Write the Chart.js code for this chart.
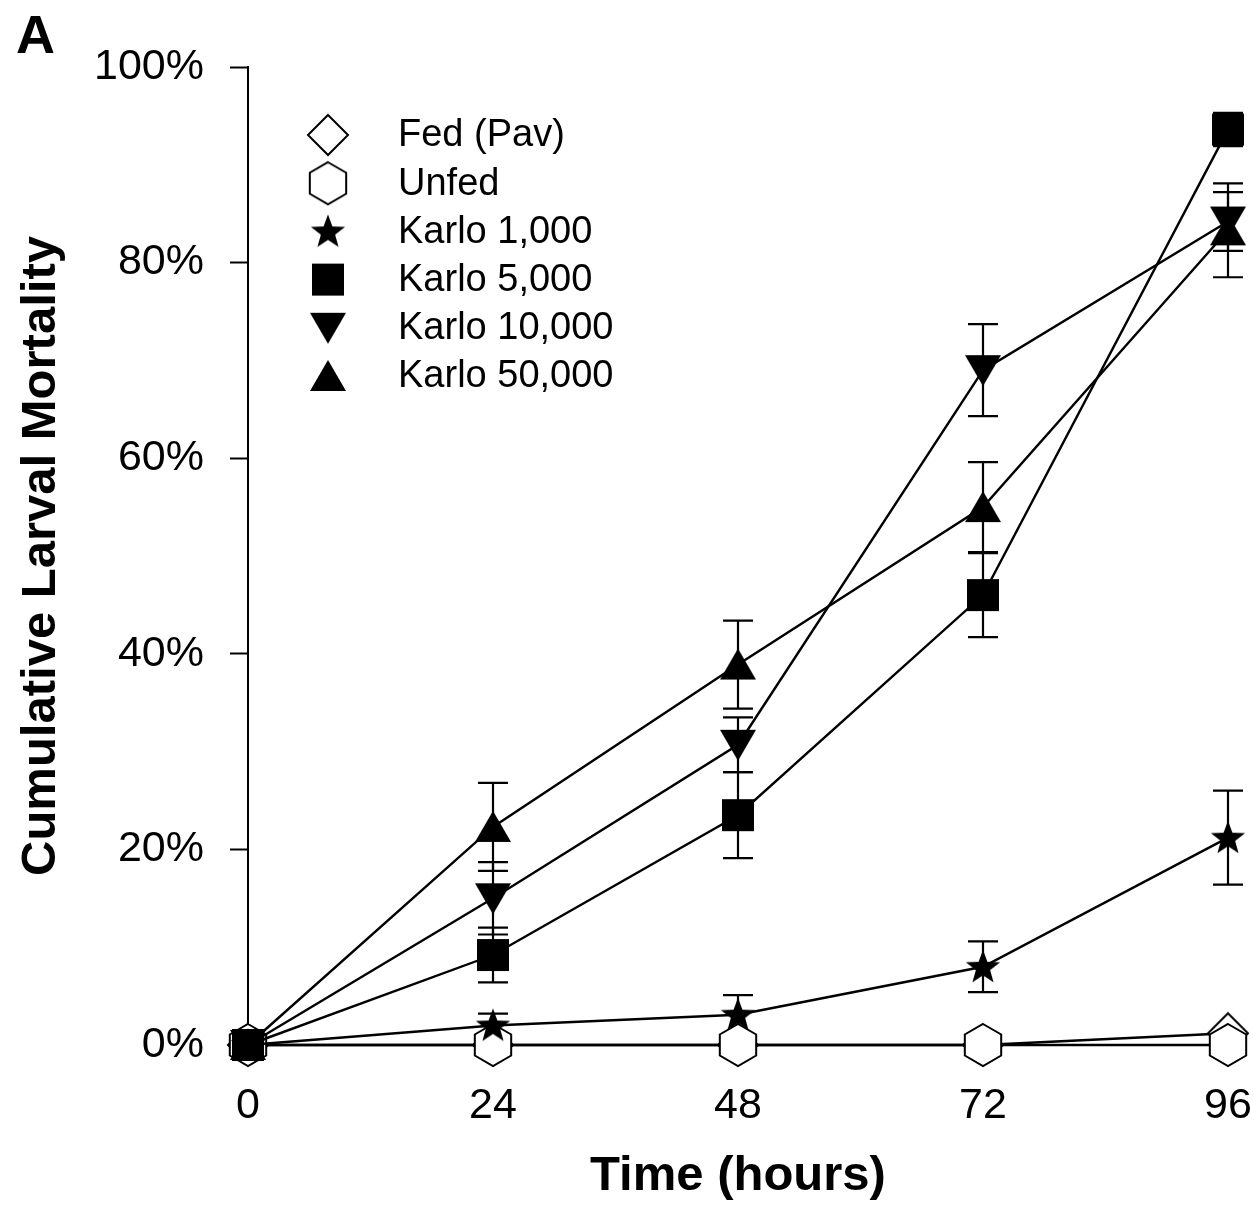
<!DOCTYPE html>
<html>
<head>
<meta charset="utf-8">
<title>Cumulative Larval Mortality</title>
<script src="https://cdn.jsdelivr.net/npm/chart.js@4.4.0/dist/chart.umd.min.js"></script>
<style>
    html, body { margin: 0; padding: 0; background: #fff; }
    #wrap { width: 1253px; height: 1206px; position: relative; }
</style>
</head>
<body>
<div id="wrap"><canvas id="myChart"></canvas></div>
<script>
"use strict";
// time points (hours)
const hours = [0, 24, 48, 72, 96];
const yTicks = [0, 20, 40, 60, 80, 100];
const seriesNames = ["Fed (Pav)", "Unfed", "Karlo 1,000", "Karlo 5,000", "Karlo 10,000", "Karlo 50,000"];
// cumulative mortality, %
const fedPav = [0, 0, 0, 0, 1.2];
const unfed = [0, 0, 0, 0, 0];
const karlo1000 = [0, 2.0, 3.1, 8.0, 21.2];
const karlo5000 = [0, 9.2, 23.5, 46.0, 93.6];
const karlo10000 = [0, 15.0, 30.7, 69.0, 84.2];
const karlo50000 = [0, 22.3, 38.9, 55.0, 83.3];
// error bars (+/-), %
const fedPavErr = [0, 0, 0, 0, 0];
const unfedErr = [0, 0, 0, 0, 0];
const karlo1000Err = [0, 1.2, 2.0, 2.6, 4.8];
const karlo5000Err = [0, 2.8, 4.4, 4.3, 1.7];
const karlo10000Err = [0, 3.7, 2.8, 4.7, 3.0];
const karlo50000Err = [0, 4.5, 4.5, 4.6, 4.8];

const FONT = "'Liberation Sans', Arial, Helvetica, sans-serif";
Chart.defaults.font.family = FONT;
Chart.defaults.color = "#000";

// marker images (SigmaPlot style symbols)
function makeMarker(size, draw) {
    const c = document.createElement("canvas");
    c.width = size;
    c.height = size;
    const ctx = c.getContext("2d");
    ctx.translate(size / 2, size / 2);
    ctx.lineWidth = 2;
    ctx.strokeStyle = "#000";
    ctx.fillStyle = "#000";
    ctx.lineJoin = "miter";
    draw(ctx);
    return c;
}
function polygon(ctx, pts, filled) {
    ctx.beginPath();
    pts.forEach((p, i) => i === 0 ? ctx.moveTo(p[0], p[1]) : ctx.lineTo(p[0], p[1]));
    ctx.closePath();
    if (filled) {
        ctx.fill();
    } else {
        ctx.fillStyle = "#fff";
        ctx.fill();
        ctx.stroke();
    }
}
const diamond = makeMarker(46, ctx => polygon(ctx, [[0, -20], [20, 0], [0, 20], [-20, 0]], false));
const hexagon = makeMarker(46, ctx => {
    const pts = [];
    for (let i = 0; i < 6; i++) {
        const a = -Math.PI / 2 + i * Math.PI / 3;
        pts.push([21 * Math.cos(a), 21 * Math.sin(a)]);
    }
    polygon(ctx, pts, false);
});
const star = makeMarker(40, ctx => {
    const pts = [];
    for (let i = 0; i < 10; i++) {
        const a = -Math.PI / 2 + i * Math.PI / 5;
        const r = i % 2 === 0 ? 18 : 7.5;
        pts.push([r * Math.cos(a), r * Math.sin(a) + 1]);
    }
    polygon(ctx, pts, true);
});
const square = makeMarker(36, ctx => ctx.fillRect(-16, -16, 32, 32));
const triUp = makeMarker(40, ctx => polygon(ctx, [[0, -16], [18, 15], [-18, 15]], true));
const triDown = makeMarker(40, ctx => polygon(ctx, [[0, 16], [18, -15], [-18, -15]], true));

const seriesValues = [fedPav, unfed, karlo1000, karlo5000, karlo10000, karlo50000];
const seriesErrors = [fedPavErr, unfedErr, karlo1000Err, karlo5000Err, karlo10000Err, karlo50000Err];
const seriesMarkers = [diamond, hexagon, star, square, triDown, triUp];
// lower order is drawn on top
const seriesOrder = [5, 4, 0, 1, 2, 3];

// vertical error bars with caps, drawn through the chart scales
const errorBars = {
    id: "errorBars",
    beforeDatasetsDraw(chart) {
        const ctx = chart.ctx;
        const xs = chart.scales.x;
        const ys = chart.scales.y;
        ctx.save();
        ctx.strokeStyle = "#000";
        ctx.lineWidth = 2.2;
        seriesErrors.forEach((errs, s) => {
            errs.forEach((e, i) => {
                if (!e) return;
                const v = seriesValues[s][i];
                const px = xs.getPixelForValue(hours[i]);
                const top = ys.getPixelForValue(v + e);
                const bot = ys.getPixelForValue(v - e);
                ctx.beginPath();
                ctx.moveTo(px, top);
                ctx.lineTo(px, bot);
                ctx.moveTo(px - 15, top);
                ctx.lineTo(px + 15, top);
                ctx.moveTo(px - 15, bot);
                ctx.lineTo(px + 15, bot);
                ctx.stroke();
            });
        });
        ctx.restore();
    }
};

// legend box inside the plot, plus the panel letter
const insideLegend = {
    id: "insideLegend",
    afterDraw(chart) {
        const ctx = chart.ctx;
        const area = chart.chartArea;
        ctx.save();
        ctx.font = "38px " + FONT;
        ctx.fillStyle = "#000";
        ctx.textBaseline = "middle";
        ctx.textAlign = "left";
        seriesNames.forEach((name, i) => {
            const y = area.top + 68 + i * 48.2;
            const m = seriesMarkers[i];
            ctx.drawImage(m, area.left + 80 - m.width / 2, y - m.height / 2);
            ctx.fillText(name, area.left + 150, y + 1);
        });
        ctx.font = "bold 54px " + FONT;
        ctx.textBaseline = "alphabetic";
        ctx.fillText("A", 16, 53);
        ctx.restore();
    }
};

function chartMaken() {
    return new Chart("myChart", {
        type: "line",
        data: {
            datasets: seriesNames.map((name, s) => ({
                label: name,
                data: hours.map((h, i) => ({ x: h, y: seriesValues[s][i] })),
                borderColor: "#000",
                borderWidth: 2.4,
                backgroundColor: "#000",
                pointStyle: seriesMarkers[s],
                pointRadius: 12,
                tension: 0,
                fill: false,
                clip: false,
                order: seriesOrder[s]
            }))
        },
        options: {
            responsive: true,
            maintainAspectRatio: false,
            animation: false,
            layout: { padding: { top: 67, right: 25, left: 0, bottom: 0 } },
            plugins: {
                legend: { display: false },
                tooltip: { enabled: false }
            },
            scales: {
                x: {
                    type: "linear",
                    min: hours[0],
                    max: hours[hours.length - 1],
                    afterBuildTicks: scale => { scale.ticks = hours.map(v => ({ value: v })); },
                    afterFit: scale => {
                        scale.height = 161;
                        scale.paddingLeft = 0;
                        scale.paddingRight = 0;
                    },
                    grid: { display: false, drawTicks: false },
                    border: { display: false },
                    ticks: { font: { size: 43 }, color: "#000", padding: 35, maxRotation: 0 },
                    title: {
                        display: true,
                        text: "Time (hours)",
                        font: { size: 49, weight: "bold" },
                        color: "#000",
                        padding: { top: 0, bottom: 0 }
                    }
                },
                y: {
                    min: 0,
                    max: 100,
                    afterBuildTicks: scale => { scale.ticks = yTicks.map(v => ({ value: v })); },
                    afterFit: scale => {
                        scale.width = 248;
                        scale.paddingTop = 0;
                        scale.paddingBottom = 0;
                    },
                    grid: {
                        display: true,
                        drawOnChartArea: false,
                        drawTicks: true,
                        tickLength: 18,
                        tickWidth: 2,
                        color: "#000"
                    },
                    border: { display: true, color: "#000", width: 2 },
                    ticks: {
                        font: { size: 43 },
                        color: "#000",
                        padding: 26,
                        callback: v => v + "%"
                    },
                    title: {
                        display: true,
                        text: "Cumulative Larval Mortality",
                        font: { size: 49, weight: "bold" },
                        color: "#000",
                        padding: { top: 12, bottom: 0 }
                    }
                }
            }
        },
        plugins: [errorBars, insideLegend]
    });
}

let chart;
document.addEventListener("DOMContentLoaded", () => {
    chart = chartMaken();
});
</script>
</body>
</html>
